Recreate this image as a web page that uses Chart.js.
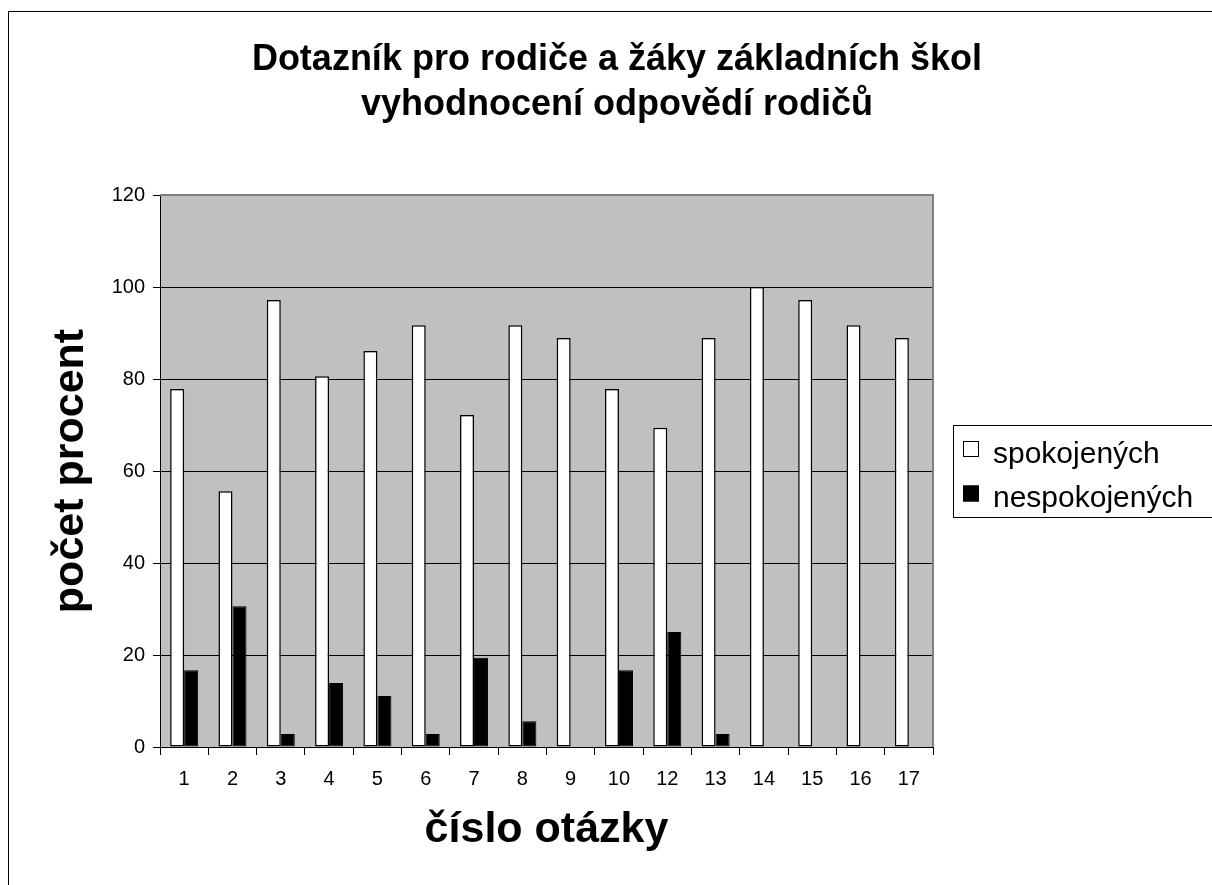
<!DOCTYPE html>
<html>
<head>
<meta charset="utf-8">
<script src="https://cdn.jsdelivr.net/npm/chart.js@4"></script>
<style>
  body { margin: 0; background: #fff; }
  #wrap { width: 1212px; height: 885px; }
</style>
</head>
<body>
<div id="wrap"><canvas id="chart" width="1212" height="885"></canvas></div>
<script>
var labels = ['1', '2', '3', '4', '5', '6', '7', '8', '9', '10', '12', '13', '14', '15', '16', '17'];
var spokojenych = [77.8, 55.6, 97.2, 80.6, 86.1, 91.7, 72.2, 91.7, 88.9, 77.8, 69.4, 88.9, 100, 97.2, 91.7, 88.9];
var nespokojenych = [16.7, 30.6, 2.8, 13.9, 11.1, 2.8, 19.4, 5.6, 0, 16.7, 25.0, 2.8, 0, 0, 0, 0];
var yTicks = [0, 20, 40, 60, 80, 100, 120];

var FONT = '"Liberation Sans", Arial, sans-serif';

// plot background, outer frame and the boxed legend
var decor = {
    id: 'decor',
    beforeDraw: function(chart) {
        var ctx = chart.ctx, a = chart.chartArea;
        ctx.save();
        ctx.fillStyle = '#fff';
        ctx.fillRect(0, 0, chart.width, chart.height);
        ctx.strokeStyle = '#000';
        ctx.lineWidth = 1;
        ctx.strokeRect(8.5, 11.5, 1400, 1000);
        ctx.fillStyle = '#c0c0c0';
        ctx.fillRect(a.left, a.top, a.right - a.left, a.bottom - a.top);
        ctx.restore();
    },
    beforeDatasetsDraw: function(chart) {
        var ctx = chart.ctx, a = chart.chartArea;
        ctx.save();
        ctx.strokeStyle = '#808080';
        ctx.lineWidth = 2;
        ctx.beginPath();
        ctx.moveTo(a.left, a.top);
        ctx.lineTo(a.right, a.top);
        ctx.lineTo(a.right, a.bottom);
        ctx.stroke();
        ctx.restore();
    },
    afterDraw: function(chart) {
        var ctx = chart.ctx;
        ctx.save();
        ctx.strokeStyle = '#000';
        ctx.lineWidth = 1;
        ctx.strokeRect(953.5, 425.5, 400, 92);
        ctx.font = '30px ' + FONT;
        ctx.textBaseline = 'alphabetic';
        chart.data.datasets.forEach(function(ds, i) {
            var y = 441 + i * 44.5;
            ctx.fillStyle = ds.backgroundColor;
            ctx.fillRect(963, y, 16, 16);
            ctx.strokeRect(963.5, y + 0.5, 15, 15);
            ctx.fillStyle = '#000';
            ctx.fillText(ds.label, 993, 463 + i * 44);
        });
        ctx.restore();
    }
};

new Chart(document.getElementById('chart'), {
    type: 'bar',
    data: {
        labels: labels,
        datasets: [{
            label: 'spokojených',
            data: spokojenych,
            backgroundColor: '#ffffff',
            borderColor: '#000',
            borderWidth: 1.5,
            borderSkipped: false,
            categoryPercentage: 0.58,
            barPercentage: 1.0
        }, {
            label: 'nespokojených',
            data: nespokojenych,
            backgroundColor: '#000000',
            borderColor: '#000',
            borderWidth: 1,
            borderSkipped: false,
            categoryPercentage: 0.58,
            barPercentage: 1.0
        }]
    },
    options: {
        responsive: false,
        animation: false,
        layout: { padding: { left: 22, right: 0, top: 0, bottom: 0 } },
        plugins: {
            legend: { display: false },
            tooltip: { enabled: false },
            title: {
                display: true,
                text: ['Dotazník pro rodiče a žáky základních škol', 'vyhodnocení odpovědí rodičů'],
                color: '#000',
                font: { family: FONT, size: 36, weight: 'bold', lineHeight: 1.25 },
                padding: { top: 38, bottom: 67 }
            }
        },
        scales: {
            x: {
                grid: { drawOnChartArea: false, tickLength: 8, tickColor: '#000', offset: true },
                border: { color: '#000', width: 1 },
                ticks: { color: '#000', padding: 12, font: { family: FONT, size: 20 } },
                title: {
                    display: true,
                    text: 'číslo otázky',
                    color: '#000',
                    font: { family: FONT, size: 43, weight: 'bold', lineHeight: 1.2 },
                    padding: { top: 0, bottom: 29 }
                },
                afterFit: function(s) { s.height = 138; }
            },
            y: {
                min: 0,
                max: 120,
                afterBuildTicks: function(s) { s.ticks = yTicks.map(function(v) { return { value: v }; }); },
                grid: { color: '#000', lineWidth: 1, tickLength: 7, tickColor: '#000' },
                border: { color: '#000', width: 1 },
                ticks: { color: '#000', padding: 8, font: { family: FONT, size: 20 } },
                title: {
                    display: true,
                    text: 'počet procent',
                    color: '#000',
                    font: { family: FONT, size: 43, weight: 'bold', lineHeight: 1.2 },
                    padding: { top: 23, bottom: 0 }
                },
                afterFit: function(s) { s.width = 138; }
            },
            legendSpace: {
                type: 'linear',
                position: 'right',
                grid: { display: false },
                border: { display: false },
                ticks: { display: false },
                afterFit: function(s) { s.width = 279; }
            }
        }
    },
    plugins: [decor]
});
</script>
</body>
</html>
